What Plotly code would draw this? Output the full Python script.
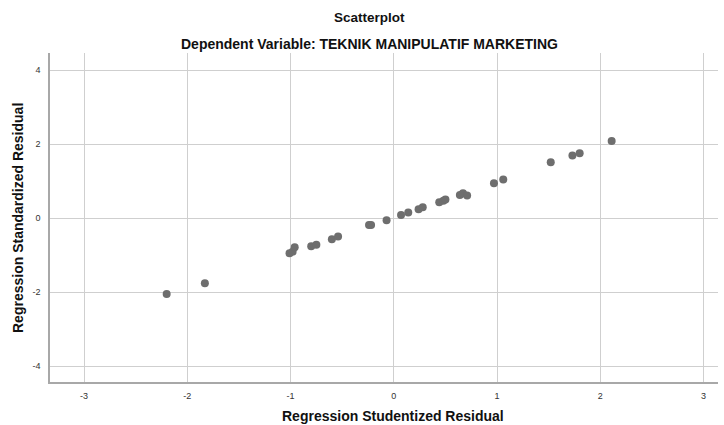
import plotly.graph_objects as go

studentized = [-2.20, -1.83, -1.01, -0.98, -0.96, -0.80, -0.75, -0.60, -0.54,
               -0.24, -0.22, -0.07, 0.07, 0.14, 0.24, 0.28, 0.44, 0.48, 0.50,
               0.64, 0.67, 0.71, 0.97, 1.06, 1.52, 1.73, 1.80, 2.11]
standardized = [-2.05, -1.76, -0.95, -0.91, -0.79, -0.76, -0.72, -0.57, -0.50,
                -0.19, -0.19, -0.06, 0.08, 0.15, 0.24, 0.29, 0.43, 0.47, 0.50,
                0.62, 0.67, 0.61, 0.94, 1.04, 1.51, 1.69, 1.75, 2.08]
x_ticks = [-3, -2, -1, 0, 1, 2, 3]
y_ticks = [-4, -2, 0, 2, 4]

FONT = "Liberation Sans, Arial, sans-serif"
ML, MR, MT, MB = 50, 6, 53, 43
W, H = 724, 425

fig = go.Figure(go.Scatter(
    x=studentized, y=standardized, mode="markers",
    marker=dict(color="#6e6e6e", size=8, line=dict(width=0)),
    hoverinfo="x+y",
))

fig.update_layout(
    width=W, height=H,
    margin=dict(l=ML, r=MR, t=MT, b=MB),
    paper_bgcolor="white", plot_bgcolor="white",
    showlegend=False,
    font=dict(family=FONT, color="#222222"),
    xaxis=dict(range=[-3.33, 3.14], tickvals=x_ticks, ticktext=[str(v) for v in x_ticks],
               showgrid=True, gridcolor="#cfcfcf", gridwidth=1,
               zeroline=False, showline=True, linecolor="#a8a8a8", linewidth=1.5,
               ticks="", tickfont=dict(size=9, color="#333333"), ticklabelstandoff=4),
    yaxis=dict(range=[-4.43, 4.46], tickvals=y_ticks, ticktext=[str(v) for v in y_ticks],
               showgrid=True, gridcolor="#cfcfcf", gridwidth=1,
               zeroline=False, showline=True, linecolor="#a8a8a8", linewidth=1.5,
               ticks="", tickfont=dict(size=9, color="#333333"), ticklabelstandoff=6),
)

plot_w = W - ML - MR
plot_h = H - MT - MB
def px_x(px):
    return (px - ML) / plot_w
def px_y(py):
    return (H - MB - py) / plot_h

def title_ann(text, x, y, size, angle=0):
    fig.add_annotation(text=text, xref="paper", yref="paper",
                       x=px_x(x), y=px_y(y), xanchor="center", yanchor="middle",
                       showarrow=False, textangle=angle,
                       font=dict(size=size, family=FONT, color="#111111"))

title_ann("<b>Scatterplot</b>", 369, 18, 13.5)
title_ann("<b>Dependent Variable: TEKNIK MANIPULATIF MARKETING</b>", 369, 44, 14)
title_ann("<b>Regression Studentized Residual</b>", 393, 416, 14)
title_ann("<b>Regression Standardized Residual</b>", 18, 218, 14, -90)

fig.write_html("out.html", config={"displayModeBar": False},
               post_script="document.body.style.margin='0';")
